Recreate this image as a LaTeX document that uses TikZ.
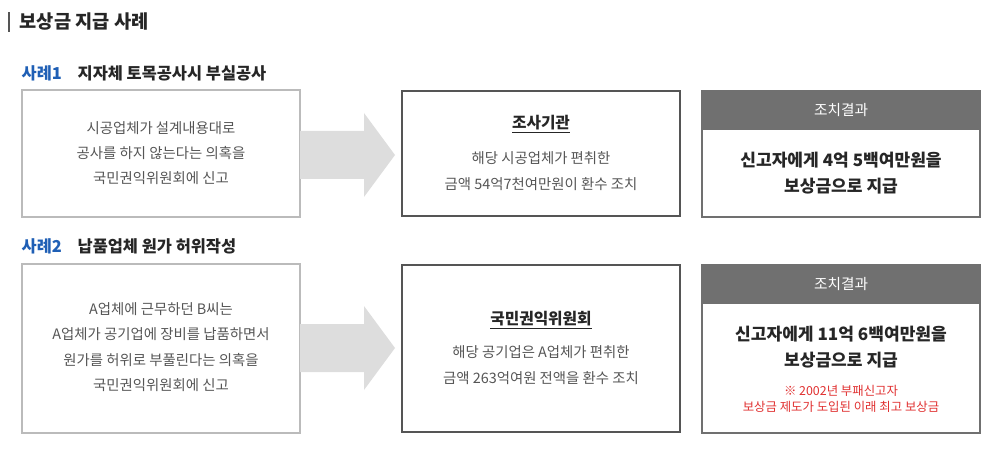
\documentclass[tikz,border=0pt]{standalone}
\usepackage{fontspec}
\setmainfont{Noto Sans CJK KR}
\definecolor{lgray}{HTML}{BBBBBB}
\definecolor{dgray}{HTML}{555555}
\definecolor{hgray}{HTML}{707070}
\definecolor{txt}{HTML}{555555}
\definecolor{blu}{HTML}{1F5FB5}
\definecolor{arr}{HTML}{DDDDDD}
\definecolor{red1}{HTML}{E03030}
\tikzset{
 lbox/.style={draw=lgray,line width=0.8pt},
 mbox/.style={draw=dgray,line width=1.1pt},
 rbox/.style={draw=hgray,line width=0.8pt},
 body/.style={font=\fontsize{10.8}{19}\selectfont,text=txt,align=center},
 big/.style={font=\fontsize{12.8}{19.5}\selectfont\bfseries,text=black!85,align=center},
 sec/.style={anchor=west,font=\fontsize{12.3}{14}\selectfont\bfseries},
 hd/.style={font=\fontsize{11}{13}\selectfont,text=white},
 mh/.style={font=\fontsize{11.8}{14}\selectfont\bfseries,text=black!85},
}
\begin{document}
\begin{tikzpicture}[x=0.75pt,y=-0.75pt]
\useasboundingbox (0,0) rectangle (994,452);
\fill[dgray] (8,12) rectangle (10,32);
\node[anchor=west,font=\fontsize{14}{16}\selectfont\bfseries,text=black!85] (title) at (15,22) {보상금 지급 사례};
% case 1
\node[sec,text=blu] (c1) at (17,73) {사례1};
\node[sec,text=black!85] (c1t) at (73,73) {지자체 토목공사시 부실공사};
\draw[lbox] (22,90) rectangle (300,217);
\node[body] (l1) at (161,153) {시공업체가 설계내용대로\\공사를 하지 않는다는 의혹을\\국민권익위원회에 신고};
\fill[arr] (300,131) -- (364,131) -- (364,113) -- (395,155) -- (364,197) -- (364,179) -- (300,179) -- cycle;
\draw[mbox] (402,91) rectangle (680,216);
\node[mh] (m1h) at (541,124) {\underline{조사기관}};
\node[body] (m1) at (541,171) {해당 시공업체가 편취한\\금액 54억7천여만원이 환수 조치};
\fill[hgray] (702,91) rectangle (980,130);
\draw[rbox] (702,91) rectangle (980,217);
\node[hd] (r1h) at (841,110) {조치결과};
\node[big] (r1) at (841,173) {신고자에게 4억 5백여만원을\\보상금으로 지급};
% case 2
\node[sec,text=blu] (c2) at (17,246) {사례2};
\node[sec,text=black!85] (c2t) at (73,246) {납품업체 원가 허위작성};
\draw[lbox] (22,264) rectangle (300,433);
\node[body] (l2) at (161,347) {A업체에 근무하던 B씨는\\A업체가 공기업에 장비를 납품하면서\\원가를 허위로 부풀린다는 의혹을\\국민권익위원회에 신고};
\fill[arr] (300,324) -- (364,324) -- (364,306) -- (395,348) -- (364,390) -- (364,372) -- (300,372) -- cycle;
\draw[mbox] (402,265) rectangle (680,432);
\node[mh] (m2h) at (541,320) {\underline{국민권익위원회}};
\node[body] (m2) at (541,365) {해당 공기업은 A업체가 편취한\\금액 263억여원 전액을 환수 조치};
\fill[hgray] (702,265) rectangle (980,304);
\draw[rbox] (702,265) rectangle (980,433);
\node[hd] (r2h) at (841,284) {조치결과};
\node[big] (r2) at (841,347) {신고자에게 11억 6백여만원을\\보상금으로 지급};
\node[font=\fontsize{9.3}{12.5}\selectfont,text=red1,align=center] (n2) at (841,399) {※ 2002년 부패신고자\\보상금 제도가 도입된 이래 최고 보상금};
\end{tikzpicture}
\end{document}
